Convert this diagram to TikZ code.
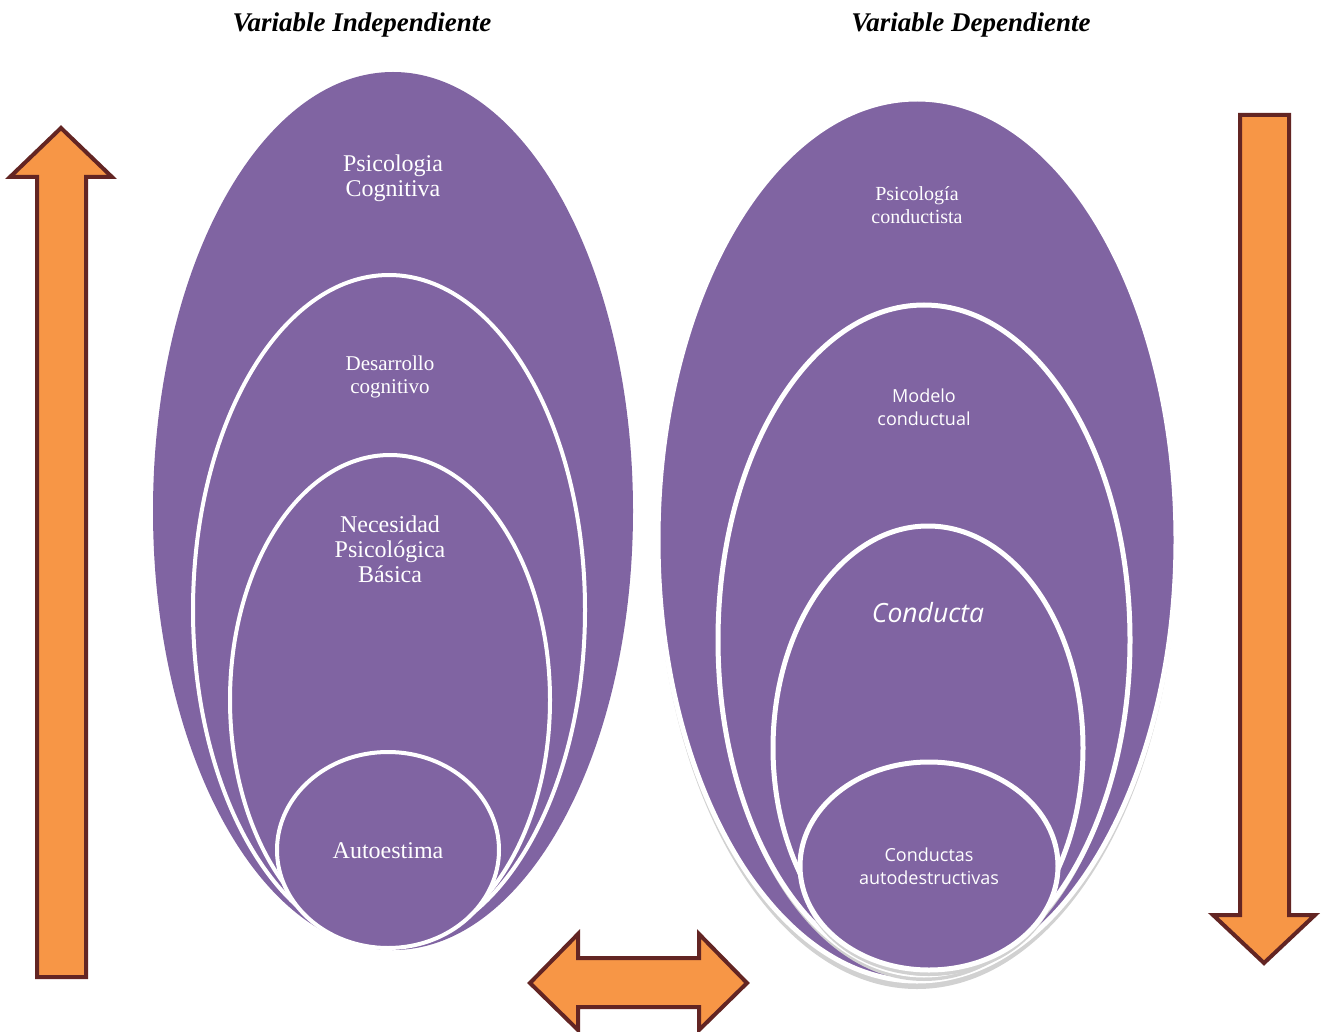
\documentclass[tikz,border=0pt]{standalone}
\usepackage{fontspec}
\setmainfont{Liberation Serif}
\newfontfamily\opensans{Open Sans}
\usetikzlibrary{shapes.geometric}
\definecolor{purp}{HTML}{8064A2}
\definecolor{orng}{HTML}{F79646}
\definecolor{brwn}{HTML}{632523}
\tikzset{
  oval/.style={ellipse, fill=purp, inner sep=0pt, outer sep=0pt},
  ring/.style={oval, draw=white, line width=4pt},
  ringR/.style={oval, draw=white, line width=5pt},
  shadowR/.style={ellipse, fill=black!18, draw=none, inner sep=0pt},
  lbl/.style={text=white, align=center, inner sep=0pt},
  bigarrow/.style={fill=orng, draw=brwn, line width=4pt, line join=miter},
  ttl/.style={font=\fontsize{27}{30}\selectfont\bfseries\itshape, inner sep=0pt}
}
\begin{document}
\begin{tikzpicture}[x=1pt,y=-1pt]
\useasboundingbox[fill=white] (0,0) rectangle (1325,1032);

% titles
\node[ttl] (t1) at (362,25) {Variable Independiente};
\node[ttl] (t2) at (971,25) {Variable Dependiente};

% left nested ellipses
\node[oval, minimum width=480pt, minimum height=878pt] (L1) at (393,511) {};
\node[ring, minimum width=392pt, minimum height=670pt] (L2) at (389,610) {};
\node[ring, minimum width=320pt, minimum height=490pt] (L3) at (390,700) {};
\node[ring, minimum width=222pt, minimum height=196pt] (L4) at (388,850) {};

\node[lbl, font=\fontsize{24}{25}\selectfont] (l1) at (393,178) {Psicologia\\Cognitiva};
\node[lbl, font=\fontsize{21}{23}\selectfont] (l2) at (390,377) {Desarrollo\\cognitivo};
\node[lbl, font=\fontsize{24}{25}\selectfont] (l3) at (390,549) {Necesidad\\Psicológica\\Básica};
\node[lbl, font=\fontsize{24}{25}\selectfont] (l4) at (388,851) {Autoestima};

% right nested ellipses
\node[shadowR, minimum width=520pt, minimum height=886pt] (R0) at (917,546) {};
\node[ringR, minimum width=518pt, minimum height=882pt] (R1) at (917,540) {};
\node[shadowR, minimum width=412pt, minimum height=672pt] (R2s) at (924,645) {};
\node[ringR, minimum width=412pt, minimum height=670pt] (R2) at (924,640) {};
\node[shadowR, minimum width=310pt, minimum height=446pt] (R3s) at (928,753) {};
\node[ringR, minimum width=310pt, minimum height=444pt] (R3) at (928,748) {};
\node[shadowR, minimum width=258pt, minimum height=210pt] (R4s) at (929,871) {};
\node[ringR, minimum width=258pt, minimum height=208pt] (R4) at (929,866) {};

\node[lbl, font=\fontsize{20}{23}\selectfont] (r1) at (917,205) {Psicología\\conductista};
\node[lbl, font=\opensans\fontsize{18}{23}\selectfont] (r2) at (924,407) {Modelo\\conductual};
\node[lbl, font=\opensans\itshape\fontsize{26.5}{30}\selectfont] (r3) at (928,613) {Conducta};
\node[lbl, font=\opensans\fontsize{18}{23}\selectfont] (r4) at (929,866) {Conductas\\autodestructivas};

% left up arrow
\draw[bigarrow] (37,977) -- (37,177) -- (10,177) -- (61,128) -- (112,177) -- (86,177) -- (86,977) -- cycle;
% right down arrow
\draw[bigarrow] (1240,115) -- (1240,915) -- (1213,915) -- (1264,963) -- (1315,915) -- (1289,915) -- (1289,115) -- cycle;
% double arrow
\draw[bigarrow] (530,983) -- (578,934) -- (578,958) -- (699,958) -- (699,934) -- (747,983) -- (699,1030) -- (699,1007) -- (578,1007) -- (578,1030) -- cycle;
\end{tikzpicture}
\end{document}
